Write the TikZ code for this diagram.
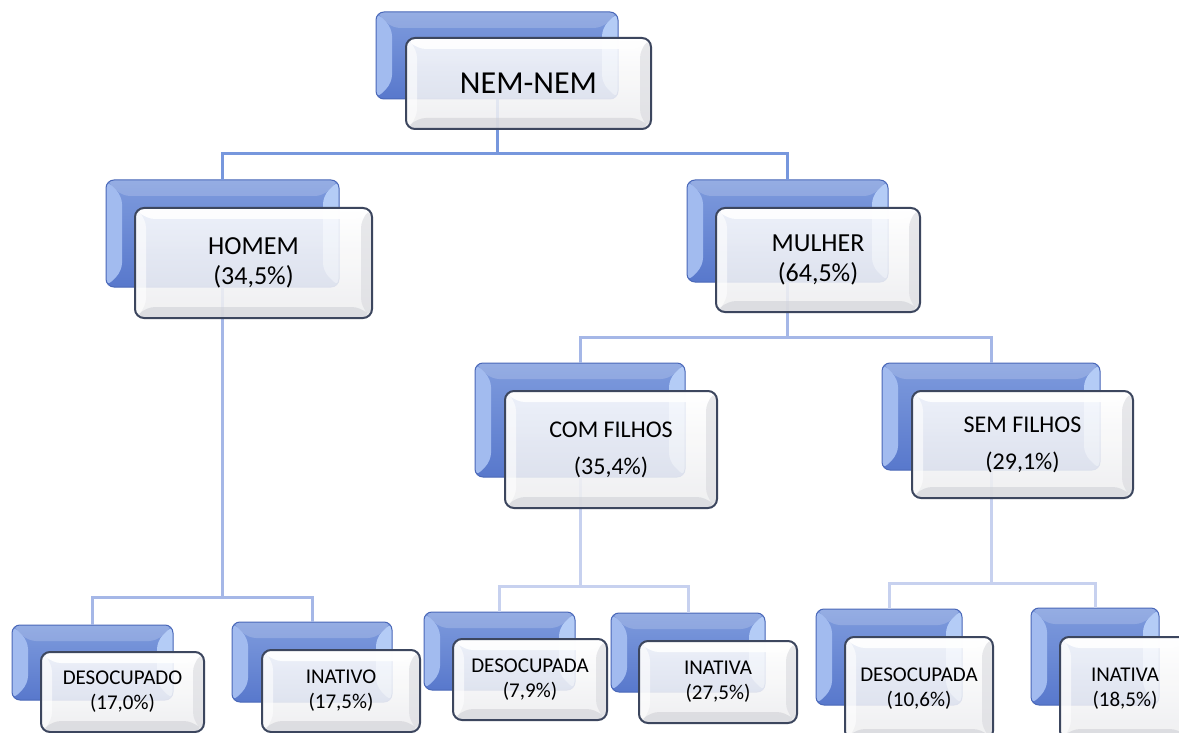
\documentclass[tikz,border=0pt]{standalone}
\usepackage{fontspec}
\setmainfont{Carlito}
\usetikzlibrary{calc}
\definecolor{cone}{HTML}{7797DD}
\definecolor{ctwo}{HTML}{A5B7E7}
\definecolor{cthree}{HTML}{C7D1EF}
\definecolor{btop}{HTML}{7E9BDD}
\definecolor{bbot}{HTML}{5878CC}
\definecolor{bbord}{HTML}{4A68B8}
\definecolor{bevl}{HTML}{A2BBEF}
\definecolor{bevr}{HTML}{B4CCF6}
\definecolor{fbord}{HTML}{3C465E}
\definecolor{fgr}{HTML}{D6D7DC}
\definecolor{fgb}{HTML}{CDCED4}
\tikzset{
  conn/.style={line width=3pt},
  backbox/.style={rectangle, rounded corners=8pt, draw=bbord, line width=1pt,
    top color=btop, bottom color=bbot, inner sep=0pt, outer sep=0pt,
    path picture={
      \fill[bevl] (path picture bounding box.north west) -- ++(16,16)
        -- ($(path picture bounding box.south west)+(16,-16)$)
        -- (path picture bounding box.south west) -- cycle;
      \fill[bevr] (path picture bounding box.north east) -- ++(-16,16)
        -- ($(path picture bounding box.south east)+(-16,-16)$)
        -- (path picture bounding box.south east) -- cycle;
      \fill[white, opacity=0.18] (path picture bounding box.north west) -- ++(16,16)
        -- ($(path picture bounding box.north east)+(-16,16)$)
        -- (path picture bounding box.north east) -- cycle;
    }},
  frontbox/.style={rectangle, rounded corners=9pt, draw=fbord, line width=2pt,
    top color=white, bottom color=fgr!45, fill opacity=0.87, text opacity=1,
    inner sep=0pt, outer sep=0pt, align=center,
    path picture={
      \fill[fgr, fill opacity=0.55] (path picture bounding box.north east) -- ++(-11,11)
        -- ($(path picture bounding box.south east)+(-11,-11)$)
        -- (path picture bounding box.south east) -- cycle;
      \fill[fgb, fill opacity=0.55] (path picture bounding box.south west) -- ++(11,-11)
        -- ($(path picture bounding box.south east)+(-11,-11)$)
        -- (path picture bounding box.south east) -- cycle;
      \fill[white, fill opacity=0.9] (path picture bounding box.north west) -- ++(11,11)
        -- ($(path picture bounding box.north east)+(-11,11)$)
        -- (path picture bounding box.north east) -- cycle;
      \fill[white, fill opacity=0.6] (path picture bounding box.north west) -- ++(11,11)
        -- ($(path picture bounding box.south west)+(11,-11)$)
        -- (path picture bounding box.south west) -- cycle;
    }},
  bigtxt/.style={font=\fontsize{32}{36}\selectfont},
  midtxt/.style={font=\fontsize{26}{30}\selectfont},
  filtxt/.style={font=\fontsize{24}{37}\selectfont},
  lowtxt/.style={font=\fontsize{21}{25}\selectfont}
}
\begin{document}
\begin{tikzpicture}[x=1pt,y=-1pt]
\useasboundingbox (0,0) rectangle (1179,733);
\clip (0,0) rectangle (1179,733);
\fill[white] (0,0) rectangle (1179,733);

% back boxes
\node[backbox, minimum width=242, minimum height=87] (rootB) at (497,55.5) {};
\node[backbox, minimum width=233, minimum height=107] (hB) at (222.5,233.5) {};
\node[backbox, minimum width=201, minimum height=102] (mB) at (787.5,231) {};
\node[backbox, minimum width=210, minimum height=114] (cB) at (580,420) {};
\node[backbox, minimum width=218, minimum height=107] (sB) at (991,416.5) {};
\node[backbox, minimum width=161, minimum height=75] (dhB) at (92.5,662.5) {};
\node[backbox, minimum width=160, minimum height=80] (ihB) at (312,662) {};
\node[backbox, minimum width=151, minimum height=78] (dcB) at (499.5,651) {};
\node[backbox, minimum width=154, minimum height=79] (icB) at (688,652.5) {};
\node[backbox, minimum width=146, minimum height=96] (dsB) at (889,657) {};
\node[backbox, minimum width=128, minimum height=97] (isB) at (1095,656.5) {};

% connectors
\coordinate (j1) at (rootB.center |- 0,154);
\coordinate (j2) at (hB.center |- 0,597);
\coordinate (j3) at (mB.center |- 0,337);
\coordinate (j4) at (cB.center |- 0,586);
\coordinate (j5) at (sB.center |- 0,583);
\draw[conn, cone] (rootB.south) -- (j1) -| (hB.north);
\draw[conn, cone] (j1) -| (mB.north);
\draw[conn, ctwo] (hB.south) -- (j2) -| (dhB.north);
\draw[conn, ctwo] (j2) -| (ihB.north);
\draw[conn, ctwo] (mB.south) -- (j3) -| (cB.north);
\draw[conn, ctwo] (j3) -| (sB.north);
\draw[conn, cthree] (cB.south) -- (j4) -| (dcB.north);
\draw[conn, cthree] (j4) -| (icB.north);
\draw[conn, cthree] (sB.south) -- (j5) -| (dsB.north);
\draw[conn, cthree] (j5) -| (isB.north);

% front boxes
\node[frontbox, bigtxt, minimum width=245, minimum height=91] (root) at (528.5,83.5) {NEM-NEM};
\node[frontbox, midtxt, minimum width=237, minimum height=110] (h) at (253.5,263) {HOMEM\\(34,5\%)};
\node[frontbox, midtxt, minimum width=204, minimum height=104] (m) at (818,260) {MULHER\\(64,5\%)};
\node[frontbox, filtxt, minimum width=212, minimum height=117] (c) at (611,449.5) {COM FILHOS\\(35,4\%)};
\node[frontbox, filtxt, minimum width=221, minimum height=107] (s) at (1022.5,444.5) {SEM FILHOS\\(29,1\%)};
\node[frontbox, lowtxt, minimum width=163, minimum height=80] (dh) at (122.5,692) {DESOCUPADO\\(17,0\%)};
\node[frontbox, lowtxt, minimum width=158, minimum height=82] (ih) at (341,691) {INATIVO\\(17,5\%)};
\node[frontbox, lowtxt, minimum width=154, minimum height=81] (dc) at (530,679.5) {DESOCUPADA\\(7,9\%)};
\node[frontbox, lowtxt, minimum width=158, minimum height=82] (ic) at (718,682) {INATIVA\\(27,5\%)};
\node[frontbox, lowtxt, minimum width=148, minimum height=103] (ds) at (919,688.5) {DESOCUPADA\\(10,6\%)};
\node[frontbox, lowtxt, minimum width=130, minimum height=103] (is) at (1125,688.5) {INATIVA\\(18,5\%)};
\end{tikzpicture}
\end{document}
